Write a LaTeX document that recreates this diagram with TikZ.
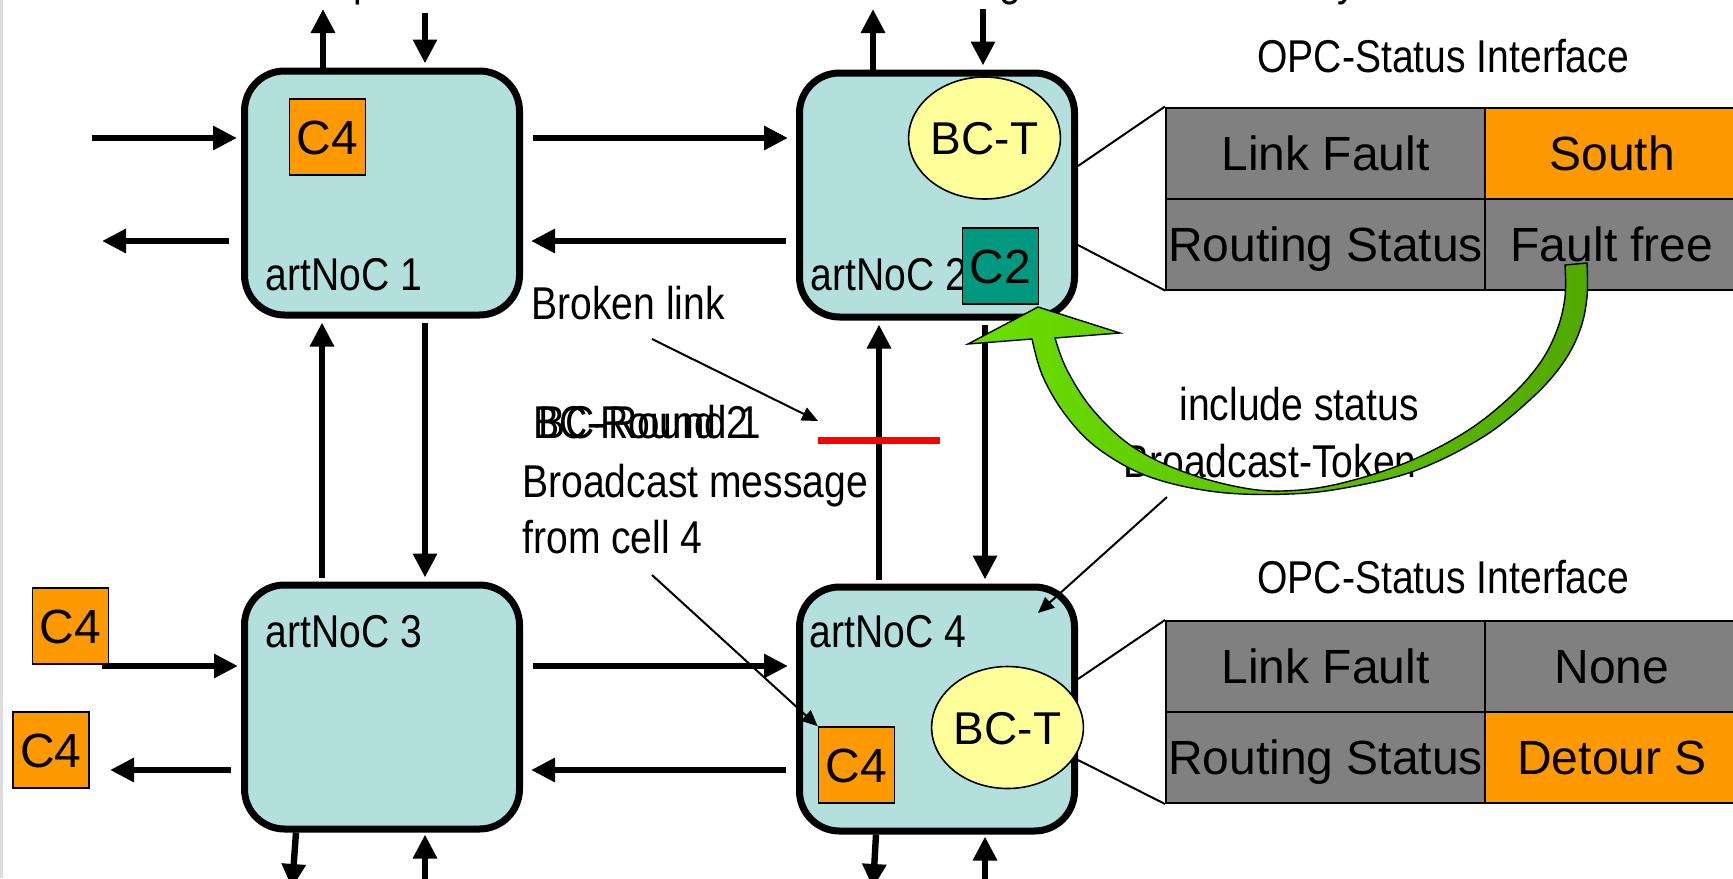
\documentclass[tikz,border=0pt]{standalone}
\usepackage{fontspec}
\setmainfont{Liberation Sans}
\newfontfamily\narrowf[FakeStretch=0.85]{Liberation Sans}
\newfontfamily\narrowg[FakeStretch=0.88]{Liberation Sans}
\usetikzlibrary{arrows.meta,shapes.geometric,calc}
\definecolor{nocfill}{HTML}{B3E0DC}
\definecolor{orng}{HTML}{FF9900}
\definecolor{tealc}{HTML}{009980}
\definecolor{yel}{HTML}{FFFF99}
\definecolor{cellgray}{HTML}{808080}
\definecolor{gL}{HTML}{6ADF00}
\definecolor{gR}{HTML}{52A800}
\definecolor{edgegray}{HTML}{DDDDDD}
\begin{document}
\begin{tikzpicture}[x=0.5pt,y=-0.5pt,
  noc/.style={draw, line width=3.5pt, fill=nocfill, rounded corners=20pt,
    minimum width=137.5pt, minimum height=122pt, inner sep=0pt},
  link/.style={line width=3.2pt, -{Triangle[length=12pt,width=11.5pt]}},
  thinarrow/.style={line width=1pt, -{Triangle[length=8pt,width=7pt]}},
  lbl/.style={font=\narrowf\fontsize{23pt}{27pt}\selectfont, inner sep=0pt},
  lblw/.style={font=\narrowg\fontsize{23pt}{27pt}\selectfont, inner sep=0pt},
  cbox/.style={draw, line width=0.8pt, minimum size=38pt, inner sep=0pt,
    text height=17pt, text depth=0pt, font=\fontsize{24pt}{28pt}\selectfont},
  bct/.style={ellipse, draw, line width=0.8pt, fill=yel, minimum width=67.5pt,
    minimum height=61pt, inner sep=0pt, text height=16.5pt, text depth=0pt,
    font=\fontsize{23pt}{27pt}\selectfont},
  cellw/.style={draw, line width=1pt, inner sep=0pt, minimum width=159.5pt,
    minimum height=45.5pt, text height=17pt, text depth=0pt,
    font=\fontsize{24pt}{28pt}\selectfont},
  celln/.style={cellw, minimum width=127pt},
  gap/.style={shorten <=2pt, shorten >=2pt},
  hgap/.style={shorten <=5pt, shorten >=4pt}
]
\useasboundingbox (0,0) rectangle (1733,878);
\fill[white] (0,0) rectangle (1733,878);
\fill[edgegray] (0,0) rectangle (3,878);

% top cut-off text fragments
\begin{scope}
\clip (0,0) rectangle (1733,878);
\node[lbl, anchor=base west] at (353,-4) {p};
\node[lbl, anchor=base] at (1010,-4) {g};
\node[lbl, anchor=base] at (1347,-4) {y};
\end{scope}

% routers
\node[noc] (b1) at (382,193) {};
\node[noc] (b2) at (937,195) {};
\node[noc] (b3) at (382,707) {};
\node[noc] (b4) at (937,709) {};

% top links
\draw[link] (b1.north -| 323,0) -- (323,9);
\draw[link, shorten >=2pt] (425,13) -- (b1.north -| 425,0);
\draw[link] (b2.north -| 873,0) -- (873,9);
\draw[link, shorten >=2pt] (983,9) -- (b2.north -| 983,0);
% left links
\draw[link, shorten >=2pt] (92,138) -- (b1.west |- 0,138);
\draw[link, shorten <=6pt] (b1.west |- 0,241) -- (102,241);
\draw[link, shorten >=1.5pt] (102,666) -- (b3.west |- 0,666);
\draw[link, shorten <=5pt] (b3.west |- 0,770) -- (110,770);
% horizontal links
\draw[link, hgap] (b1.east |- 0,138) -- (b2.west |- 0,138);
\draw[link, hgap] (b2.west |- 0,241) -- (b1.east |- 0,241);
\draw[link, hgap] (b3.east |- 0,666) -- (b4.west |- 0,666);
\draw[link, hgap] (b4.west |- 0,770) -- (b3.east |- 0,770);
% vertical links
\draw[link, gap] (b3.north -| 322,0) -- (b1.south -| 322,0);
\draw[link, gap] (b1.south -| 425,0) -- (b3.north -| 425,0);
\draw[link, gap] (b4.north -| 879,0) -- (b2.south -| 879,0);
\draw[link, gap] (b2.south -| 985,0) -- (b4.north -| 985,0);
% bottom links
\coordinate (o3) at (292,888);
\coordinate (i3) at (425,888);
\coordinate (o4) at (873,888);
\coordinate (i4) at (985,888);
\draw[link] (b3.south -| 296,0) -- (o3);
\draw[link, shorten >=1pt] (i3) -- (b3.south -| 425,0);
\draw[link] (b4.south -| 876,0) -- (o4);
\draw[link, shorten >=1pt] (i4) -- (b4.south -| 985,0);

% router labels
\node[lbl, anchor=base west] (l1) at (265,290) {artNoC 1};
\node[lbl, anchor=base west] (l2) at (810,290) {artNoC 2};
\node[lbl, anchor=base west] (l3) at (265,647) {artNoC 3};
\node[lbl, anchor=base west] (l4) at (809,647) {artNoC 4};

% cells inside / around routers
\node[cbox, fill=orng] (c4a) at (327.5,137) {C4};
\node[cbox, fill=orng] (c4b) at (70.5,626) {C4};
\node[cbox, fill=orng] (c4c) at (51,750) {C4};
\node[cbox, fill=orng] (c4d) at (856.5,765) {C4};
\node[cbox, fill=tealc] (c2) at (1000.5,266) {C2};
\node[bct] (bt2) at (984.5,138) {BC-T};
\node[bct] (bt4) at (1007.5,727.5) {BC-T};

% annotations
\node[lbl, anchor=base west] (bl) at (531,319) {Broken link};
\node[lbl, anchor=base west] (r2) at (533,438) {BC-Round 2};
\node[lblw, anchor=base west] (r1) at (538,438) {BC-Round 1};
\node[lbl, anchor=base west] (bm) at (522,497) {Broadcast message};
\node[lbl, anchor=base west] (fc) at (522,553) {from cell 4};
\coordinate (blsrc) at (652,339);
\coordinate (blend) at (818,421);
\coordinate (fcsrc) at (652,575);
\coordinate (redl) at (818,440);
\coordinate (redr) at (940,440);
\draw[thinarrow] (blsrc) -- (blend);
\draw[red, line width=3.5pt] (redl) -- (redr);
\draw[thinarrow] (fcsrc) -- (c4d.north west);

% OPC status tables
\node[lbl, anchor=base west] (opc1) at (1257,72) {OPC-Status Interface};
\node[lbl, anchor=base west] (opc2) at (1257,593) {OPC-Status Interface};
\node[cellw, fill=cellgray] (t1a) at (1325.5,153) {Link Fault};
\node[celln, fill=orng]     (t1b) at (1612,153) {South};
\node[cellw, fill=cellgray] (t1c) at (1325.5,244) {Routing Status};
\node[celln, fill=cellgray] (t1d) at (1612,244) {Fault free};
\node[cellw, fill=cellgray] (t2a) at (1325.5,666.5) {Link Fault};
\node[celln, fill=cellgray] (t2b) at (1612,666.5) {None};
\node[cellw, fill=cellgray] (t2c) at (1325.5,757.5) {Routing Status};
\node[celln, fill=orng]     (t2d) at (1612,757.5) {Detour S};
\draw[line width=1pt] (b2.east |- 0,166) -- (t1a.north west);
\draw[line width=1pt] (b2.east |- 0,245) -- (t1c.south west);
\draw[line width=1pt] (b4.east |- 0,679) -- (t2a.north west);
\draw[line width=1pt] (b4.east |- 0,760) -- (t2c.south west);

% include status text
\node[lbl, anchor=base east] (inc) at (1419,420) {include status};
\node[lbl, anchor=base east] (bctok) at (1417,477) {Broadcast-Token};
\coordinate (tksrc) at (1167,497);
\draw[thinarrow] (tksrc) -- (1038,613);

% green curved arrow
\path[draw=black, line width=0.7pt, left color=gL, right color=gR]
  plot[smooth, tension=0.6] coordinates {(1587,263) (1587,297) (1580,330) (1563,363)
    (1533,397) (1483,437) (1417,470) (1350,487) (1290,494) (1217,492) (1150,477)
    (1100,450) (1067,417) (1043,377) (1032,339)}
  -- (968,344) -- (1038,307) -- (1120,333)
  -- plot[smooth, tension=0.6] coordinates {(1055,338) (1067,370) (1093,410) (1133,447)
    (1187,473) (1250,489) (1300,490) (1350,481) (1410,461) (1467,431) (1510,397)
    (1540,363) (1557,330) (1565,297) (1565,265)}
  -- cycle;
\end{tikzpicture}
\end{document}
